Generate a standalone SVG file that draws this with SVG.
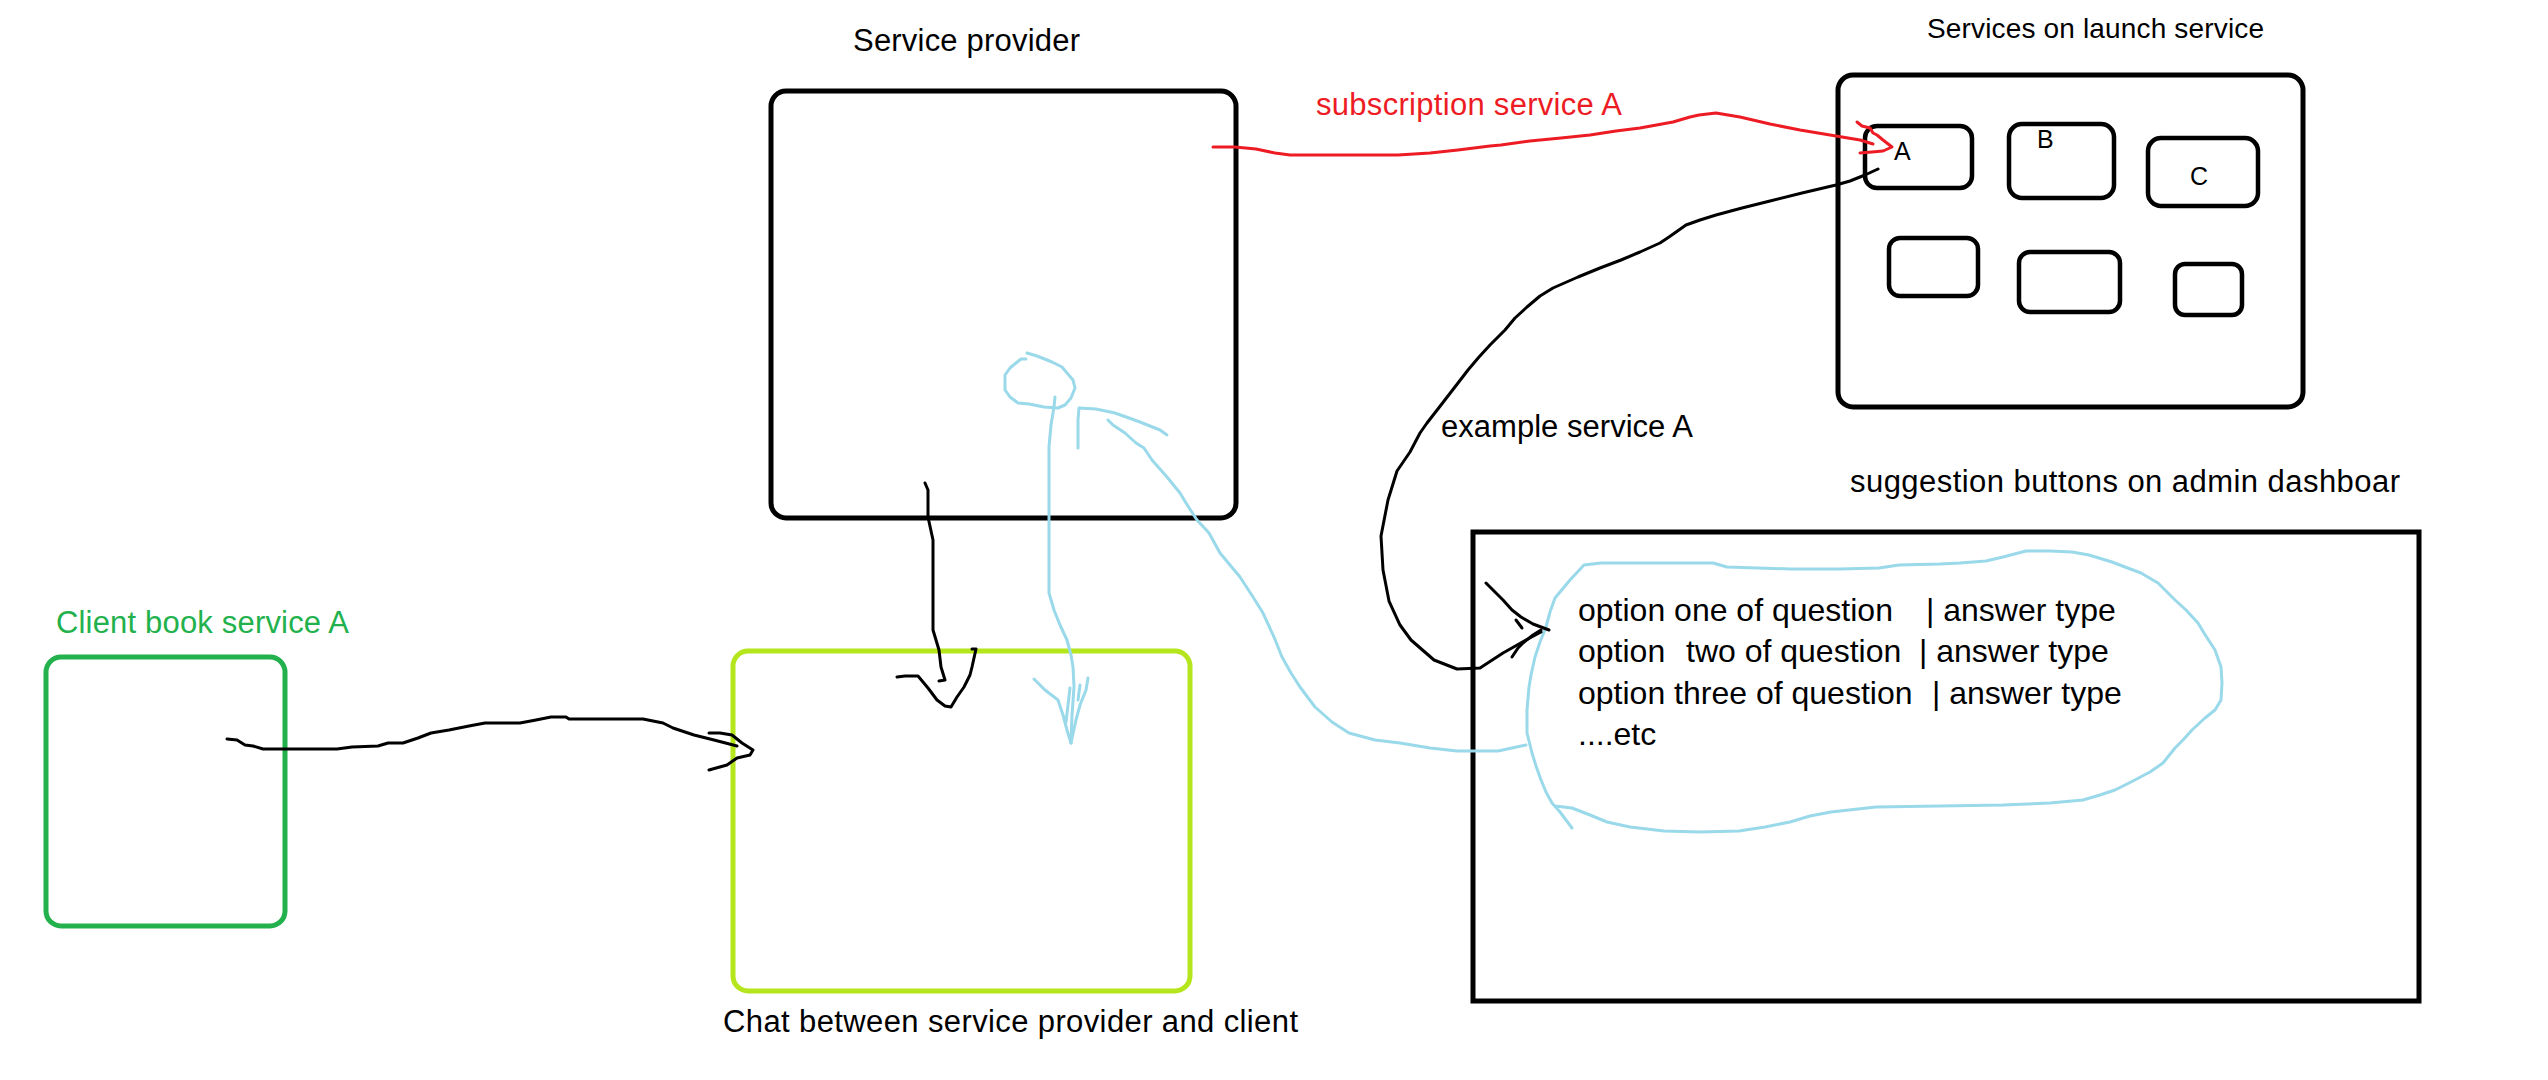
<svg xmlns="http://www.w3.org/2000/svg" width="2548" height="1080" viewBox="0 0 2548 1080">
<style>
  text { font-family: "Liberation Sans", Arial, sans-serif; fill: #000; }
  .lbl { font-size: 31px; }
  .box { fill: none; stroke: #000; stroke-width: 5; }
  .sbox { fill: none; stroke: #000; stroke-width: 4.5; }
  .ink { fill: none; stroke-width: 3; stroke-linejoin: round; stroke-linecap: round; }
  .k { stroke: #000; }
  .r { stroke: #ED1C24; }
  .b { stroke: #99D9EA; }
</style>
<rect width="2548" height="1080" fill="#fff"/>

<g id="service-provider">
  <text class="lbl" x="853" y="51" textLength="227">Service provider</text>
  <rect class="box" x="771" y="91" width="465" height="427" rx="15"/>
</g>

<g id="launch-services">
  <text x="1927" y="38" font-size="28" textLength="337">Services on launch service</text>
  <rect class="box" x="1838" y="75" width="465" height="332" rx="15"/>
  <g id="service-A">
    <rect class="sbox" x="1865" y="126" width="107" height="62" rx="12"/>
    <text x="1894" y="160" font-size="25">A</text>
  </g>
  <g id="service-B">
    <rect class="sbox" x="2009" y="124" width="105" height="74" rx="13"/>
    <text x="2037" y="148" font-size="25">B</text>
  </g>
  <g id="service-C">
    <rect class="sbox" x="2148" y="138" width="110" height="68" rx="13"/>
    <text x="2190" y="185" font-size="25">C</text>
  </g>
  <g id="service-D"><rect class="sbox" x="1889" y="238" width="89" height="58" rx="11"/></g>
  <g id="service-E"><rect class="sbox" x="2019" y="252" width="101" height="60" rx="11"/></g>
  <g id="service-F"><rect class="sbox" x="2175" y="264" width="67" height="51" rx="10"/></g>
</g>

<g id="client-book">
  <text class="lbl" x="56" y="633" fill="#22B14C" style="fill:#22B14C" textLength="293">Client book service A</text>
  <rect x="46" y="657" width="239" height="269" rx="15" fill="none" stroke="#22B14C" stroke-width="5"/>
</g>

<g id="chat">
  <rect x="733" y="651" width="457" height="340" rx="15" fill="none" stroke="#B5E61D" stroke-width="5"/>
  <text class="lbl" x="723" y="1032" textLength="575">Chat between service provider and client</text>
</g>

<g id="admin-dashboard">
  <text class="lbl" x="1850" y="492" textLength="550">suggestion buttons on admin dashboar</text>
  <rect class="box" x="1473" y="532" width="946" height="469"/>
</g>

<g id="suggestion-bubble">
  <path class="ink b" d="M1555,806 L1572,808 L1590,815 L1607,822 L1630,827 L1664,831 L1700,832 L1739,831 L1765,827 L1790,822 L1810,816 L1831,812 L1876,807 L1940,806 L2003,805 L2050,803 L2083,800 L2100,795 L2115,790 L2129,783 L2150,772 L2163,763 L2175,748 L2183,740 L2192,730 L2205,718 L2215,710 L2221,700 L2222,683 L2221,667 L2215,650 L2204,633 L2198,623 L2186,610 L2175,600 L2158,583 L2141,573 L2125,567 L2112,562 L2089,555 L2072,552 L2050,551 L2026,551 L2003,557 L1986,561 L1960,563 L1940,564 L1899,565 L1879,568 L1840,569 L1790,569 L1727,567 L1713,563 L1650,563 L1601,563 L1584,565 L1570,580 L1555,598 L1550,612 L1546,627 L1540,642 L1535,657 L1531,675 L1529,687 L1527,710 L1527,733 L1532,753 L1536,766 L1541,780 L1546,792 L1552,803 L1560,812 L1566,820 L1572,828"/>
  <text font-size="32" y="621"><tspan x="1578">option one of question</tspan><tspan x="1926">| answer type</tspan></text>
  <text font-size="32" y="662"><tspan x="1578">option</tspan><tspan x="1686">two of question</tspan><tspan x="1919">| answer type</tspan></text>
  <text font-size="32" y="704"><tspan x="1578">option three of question</tspan><tspan x="1932">| answer type</tspan></text>
  <text font-size="32" y="745" x="1578">....etc</text>
</g>

<g id="connectors">
  <!-- subscription service A (red) -->
  <g id="conn-subscription">
    <text x="1316" y="115" font-size="31" style="fill:#ED1C24" textLength="306">subscription service A</text>
    <polyline class="ink r" points="1213,147 1235,147 1256,149 1275,153 1290,155 1340,155 1398,155 1430,153 1458,150 1490,146 1501,145 1530,141 1561,138 1590,135 1616,131 1640,128 1673,122 1690,117 1699,115 1716,113 1740,117 1770,124 1800,130 1836,136 1860,140 1873,144"/>
    <polyline class="ink r" points="1857,122 1862,126 1870,128 1873,133 1877,135 1883,140 1892,147 1883,151 1872,152 1860,153"/>
  </g>
  <!-- example service A (black) -->
  <g id="conn-example">
    <text class="lbl" x="1441" y="437" textLength="252">example service A</text>
    <polyline class="ink k" points="1878,169 1865,175 1850,181 1836,185 1802,193 1770,201 1742,208 1716,215 1700,220 1686,225 1669,237 1660,243 1640,252 1621,260 1600,268 1578,277 1553,288 1540,296 1527,307 1515,318 1505,330 1490,345 1479,357 1468,370 1458,383 1441,405 1427,423 1420,433 1410,452 1397,471 1388,500 1381,536 1383,570 1389,601 1400,625 1411,640 1434,660 1457,669 1480,668 1503,653 1526,640 1541,632"/>
    <polyline class="ink k" points="1486,583 1495,592 1503,600 1512,610 1521,617 1533,624 1541,627 1549,630"/>
    <polyline class="ink k" points="1512,657 1518,648 1523,643 1533,635 1541,630"/>
    <polyline class="ink k" points="1516,620 1522,628"/>
  </g>
  <!-- service provider -> chat (black) -->
  <g id="conn-provider-chat">
    <polyline class="ink k" points="925,483 928,490 928,517 933,540 933,630 939,650 941,667 945,680 939,681"/>
    <polyline class="ink k" points="897,677 905,676 918,676 928,688 937,700 945,706 951,707 957,697 964,687 970,675 972,667 976,649 972,649"/>
  </g>
  <!-- client -> chat (black) -->
  <g id="conn-client-chat">
    <polyline class="ink k" points="227,739 237,740 245,745 253,746 263,749 337,749 352,747 378,746 388,743 403,743 418,738 431,733 449,730 469,726 485,723 520,723 536,720 551,717 566,717 569,719 643,719 663,723 673,728 694,735 714,740 737,746"/>
    <polyline class="ink k" points="709,733 720,733 732,735 742,743 753,750 750,755 737,758 727,765 709,770"/>
  </g>
  <!-- stick figure arrow to chat (blue) -->
  <g id="conn-figure-chat">
    <polyline class="ink b" points="1027,353 1037,356 1052,362 1062,367 1067,373 1073,380 1075,388 1071,398 1065,405 1058,408 1044,407 1029,404 1018,403 1010,397 1005,390 1005,375 1010,368 1016,363 1021,359 1026,359"/>
    <polyline class="ink b" points="1055,397 1054,407 1051,425 1049,447 1049,593 1054,610 1060,625 1067,640 1071,655 1073,667 1074,687 1072,715 1071,743"/>
    <polyline class="ink b" points="1034,679 1045,690 1058,700 1063,715 1067,730 1071,743"/>
    <polyline class="ink b" points="1088,678 1086,690 1080,705 1076,720 1071,743"/>
    <polyline class="ink b" points="1070,688 1068,705 1066,722"/>
    <polyline class="ink b" points="1080,685 1078,700"/>
  </g>
  <!-- figure arm to bubble (blue) -->
  <g id="conn-figure-bubble">
    <polyline class="ink b" points="1078,448 1078,420 1079,408 1096,409 1115,413 1140,422 1160,430 1167,435"/>
    <polyline class="ink b" points="1108,420 1113,425 1125,433 1136,443 1144,448 1152,460 1167,477 1180,493 1186,503 1197,520 1209,533 1220,553 1240,577 1253,597 1263,613 1274,637 1282,657 1291,673 1300,687 1315,707 1332,722 1349,733 1375,740 1400,743 1430,748 1457,751 1498,751 1526,745"/>
  </g>
</g>
</svg>
